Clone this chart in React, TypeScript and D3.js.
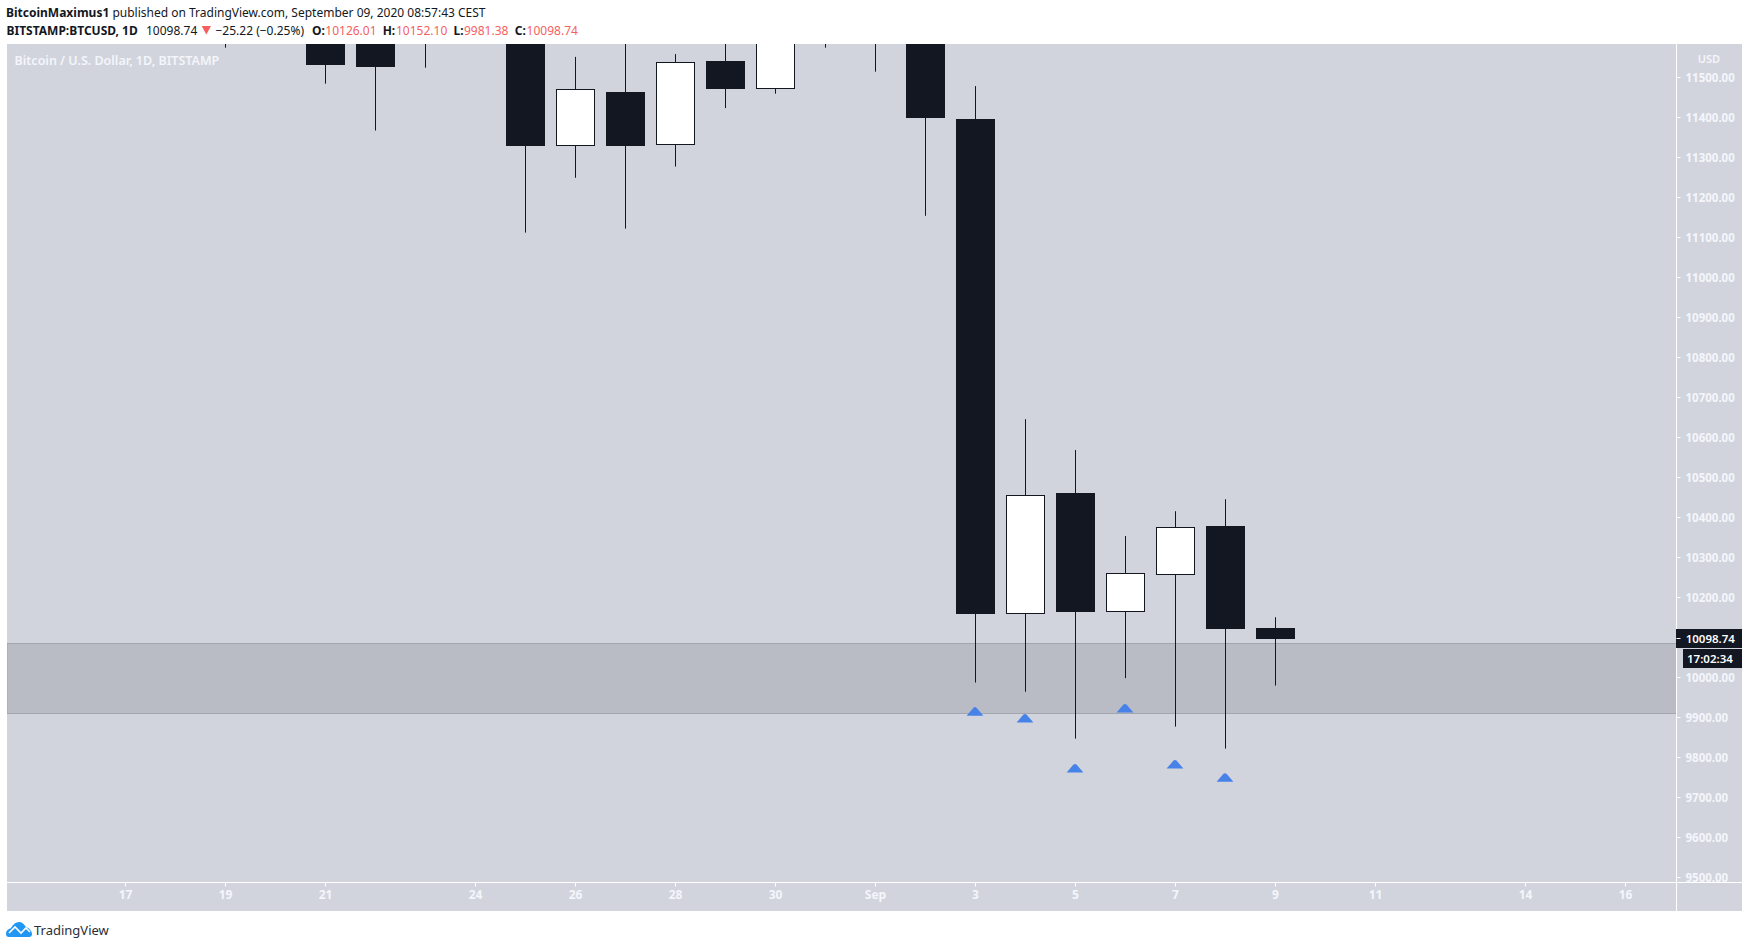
import * as d3 from "d3";
import { useEffect, useRef } from "react";

const days = ["2020-08-19", "2020-08-20", "2020-08-21", "2020-08-22", "2020-08-23", "2020-08-24", "2020-08-25", "2020-08-26", "2020-08-27", "2020-08-28", "2020-08-29", "2020-08-30", "2020-08-31", "2020-09-01", "2020-09-02", "2020-09-03", "2020-09-04", "2020-09-05", "2020-09-06", "2020-09-07", "2020-09-08", "2020-09-09"];
// values above 11590 are off the top of the picture, so those are rough guesses
const opens = [11860, 11750, 11860, 11680, 11650, 11650, 11760, 11330, 11464, 11333, 11542, 11473, 11700, 11660, 11920, 11397, 10160, 10463, 10166, 10257, 10380, 10126.01];
const highs = [11990, 11880, 11880, 11690, 11720, 11820, 11770, 11552, 11600, 11559, 11600, 11720, 11790, 12050, 11950, 11479, 10647, 10570, 10355, 10417, 10447, 10152.1];
const lows = [11575, 11680, 11485, 11368, 11525, 11590, 11113, 11250, 11123, 11278, 11424, 11460, 11575, 11515, 11155, 9989, 9966, 9849, 10000, 9879, 9824, 9981.38];
const closes = [11750, 11860, 11532, 11527, 11680, 11760, 11330, 11471, 11330, 11538, 11472, 11700, 11660, 11920, 11399, 10161, 10457, 10166, 10262, 10377, 10124, 10098.74];

const markerDays = ["2020-09-03", "2020-09-04", "2020-09-05", "2020-09-06", "2020-09-07", "2020-09-08"];
const markerPrices = [9906, 9889, 9764, 9914, 9774, 9741];

const bandPrices = [10087, 9912];

const priceTicks = d3.range(9500, 11501, 100);
const timeTickDays = ["2020-08-17", "2020-08-19", "2020-08-21", "2020-08-24", "2020-08-26", "2020-08-28", "2020-08-30", "2020-09-01", "2020-09-03", "2020-09-05", "2020-09-07", "2020-09-09", "2020-09-11", "2020-09-14", "2020-09-16"];
const timeTickLabels = ["17", "19", "21", "24", "26", "28", "30", "Sep", "3", "5", "7", "9", "11", "14", "16"];

const lastPrice = 10098.74;
const countdown = "17:02:34";

const DARK = "#131722";
const PANE = "#d1d4dd";
const AXIS_TEXT = "#f4f6fb";
const RED = "#f55f5f";
const FONT = "'Noto Sans', sans-serif";

const App = () => {
  const ref = useRef<SVGSVGElement | null>(null);

  useEffect(() => {
    const left = 7;
    const top = 44;
    const paneRight = 1676;
    const paneBottom = 882;
    const axisRight = 1742;
    const axisBottom = 911;

    const parse = d3.utcParse("%Y-%m-%d");
    const x = d3
      .scaleUtc()
      .domain([parse("2020-08-17")!, parse("2020-09-16")!])
      .range([125.5, 1625.5]);
    const y = d3.scaleLinear().domain([11500, 9500]).range([77.7, 878.3]);
    const xd = (d: string) => x(parse(d)!);

    const svg = d3.select(ref.current);
    svg.selectAll("*").remove();

    svg
      .append("rect")
      .attr("x", left)
      .attr("y", top)
      .attr("width", axisRight - left)
      .attr("height", axisBottom - top)
      .attr("fill", PANE);

    svg
      .append("clipPath")
      .attr("id", "pane")
      .append("rect")
      .attr("x", left)
      .attr("y", top)
      .attr("width", paneRight - left)
      .attr("height", paneBottom - top);

    const pane = svg.append("g").attr("clip-path", "url(#pane)");

    // grey zone
    pane
      .append("rect")
      .attr("x", left)
      .attr("y", Math.round(y(bandPrices[0])) + 0.5)
      .attr("width", paneRight - left + 2)
      .attr("height", Math.round(y(bandPrices[1])) - Math.round(y(bandPrices[0])))
      .attr("fill", "#b9bcc5")
      .attr("stroke", "#a3a6af");

    const candles = days.map((d, i) => ({
      x: xd(d),
      o: opens[i],
      h: highs[i],
      l: lows[i],
      c: closes[i],
    }));

    const g = pane
      .selectAll("g.candle")
      .data(candles)
      .enter()
      .append("g")
      .attr("class", "candle");

    g.append("line")
      .attr("x1", (d) => d.x)
      .attr("x2", (d) => d.x)
      .attr("y1", (d) => y(d.h))
      .attr("y2", (d) => y(d.l))
      .attr("stroke", DARK)
      .attr("stroke-width", 1);

    // bear bodies are solid, bull bodies white with a 1px border
    g.append("rect")
      .attr("x", (d) => (d.c < d.o ? d.x - 19.5 : d.x - 19))
      .attr("width", (d) => (d.c < d.o ? 39 : 38))
      .attr("y", (d) =>
        d.c < d.o ? Math.round(y(d.o)) : Math.round(y(d.c)) + 0.5
      )
      .attr(
        "height",
        (d) =>
          Math.round(y(Math.min(d.o, d.c))) -
          Math.round(y(Math.max(d.o, d.c))) -
          (d.c < d.o ? 0 : 1)
      )
      .attr("fill", (d) => (d.c < d.o ? DARK : "#ffffff"))
      .attr("stroke", (d) => (d.c < d.o ? "none" : DARK))
      .attr("stroke-width", 1);

    pane
      .selectAll("path.marker")
      .data(markerDays)
      .enter()
      .append("path")
      .attr("class", "marker")
      .attr("d", () => {
        const p = d3.path();
        p.moveTo(-8.4, 0);
        p.lineTo(-1.5, -8);
        p.quadraticCurveTo(0, -9.4, 1.5, -8);
        p.lineTo(8.4, 0);
        p.closePath();
        return p.toString();
      })
      .attr("transform", (d, i) => `translate(${xd(d) - 0.5},${y(markerPrices[i])})`)
      .attr("fill", "#4682e8");

    pane
      .append("text")
      .attr("x", 14.5)
      .attr("y", 65)
      .attr("fill", AXIS_TEXT)
      .attr("font-size", 12.5)
      .attr("font-weight", 600)
      .text("Bitcoin / U.S. Dollar, 1D, BITSTAMP");

    // axis lines
    svg
      .append("line")
      .attr("x1", paneRight + 0.5)
      .attr("x2", paneRight + 0.5)
      .attr("y1", top)
      .attr("y2", axisBottom)
      .attr("stroke", "#ffffff");
    svg
      .append("line")
      .attr("x1", left)
      .attr("x2", axisRight)
      .attr("y1", paneBottom + 0.5)
      .attr("y2", paneBottom + 0.5)
      .attr("stroke", "#ffffff");

    // price axis, the lowest label is cut by the time axis line
    svg
      .append("clipPath")
      .attr("id", "price-axis")
      .append("rect")
      .attr("x", paneRight)
      .attr("y", top)
      .attr("width", axisRight - paneRight)
      .attr("height", paneBottom - top);

    const priceAxis = svg
      .append("g")
      .attr("clip-path", "url(#price-axis)")
      .append("g")
      .attr("transform", `translate(${paneRight + 0.5},0)`)
      .call(
        d3
          .axisRight(y)
          .offset(0)
          .tickValues(priceTicks)
          .tickSize(4)
          .tickPadding(5)
          .tickFormat((d) => (d as number).toFixed(2))
      );
    priceAxis.select(".domain").remove();
    priceAxis
      .selectAll<SVGGElement, number>(".tick")
      .attr("transform", (d) => `translate(0,${Math.round(y(d)) - 0.5})`);
    priceAxis.selectAll("line").attr("stroke", "#ffffff");
    priceAxis
      .selectAll("text")
      .attr("y", 1)
      .attr("fill", AXIS_TEXT)
      .attr("font-size", 11.5)
      .attr("font-weight", 700)
      .attr("font-family", FONT);

    svg
      .append("text")
      .attr("x", 1709)
      .attr("y", 63)
      .attr("text-anchor", "middle")
      .attr("fill", AXIS_TEXT)
      .attr("font-size", 11)
      .attr("font-weight", 600)
      .text("USD");

    // time axis
    const timeAxis = svg
      .append("g")
      .attr("transform", `translate(0,${paneBottom + 0.5})`)
      .call(
        d3
          .axisBottom(x)
          .offset(0)
          .tickValues(timeTickDays.map((d) => parse(d)!))
          .tickSize(4)
          .tickPadding(4)
          .tickFormat((_, i) => timeTickLabels[i])
      );
    timeAxis.select(".domain").remove();
    timeAxis.selectAll("line").attr("stroke", "#ffffff");
    timeAxis
      .selectAll("text")
      .attr("fill", AXIS_TEXT)
      .attr("font-size", 12)
      .attr("font-weight", 700)
      .attr("font-family", FONT);

    // last price and countdown tags
    svg.append("rect").attr("x", paneRight).attr("y", 629).attr("width", axisRight - paneRight).attr("height", 19).attr("fill", DARK);
    svg
      .append("line")
      .attr("x1", paneRight + 0.5)
      .attr("x2", paneRight + 4.5)
      .attr("y1", Math.round(y(lastPrice)) - 0.5)
      .attr("y2", Math.round(y(lastPrice)) - 0.5)
      .attr("stroke", "#ffffff");
    svg.append("text").attr("x", 1685.7).attr("y", 643).attr("fill", "#ffffff").attr("font-size", 11.5).attr("font-weight", 600).text(lastPrice.toFixed(2));
    svg.append("rect").attr("x", 1683).attr("y", 649).attr("width", axisRight - 1683).attr("height", 19).attr("fill", DARK);
    svg.append("text").attr("x", 1687).attr("y", 663).attr("fill", "#ffffff").attr("font-size", 11.5).attr("font-weight", 600).text(countdown);

    // header
    const header = svg.append("g").attr("font-size", 12).attr("fill", DARK);
    const line1 = header.append("text").attr("x", 6).attr("y", 17);
    line1.append("tspan").attr("font-weight", 700).text("BitcoinMaximus1");
    line1.append("tspan").text(" published on TradingView.com, September 09, 2020 08:57:43 CEST");

    const put = (px: number, s: string, bold: boolean, fill: string) =>
      header
        .append("text")
        .attr("x", px)
        .attr("y", 34.5)
        .attr("font-weight", bold ? 700 : 400)
        .attr("fill", fill)
        .text(s);
    put(6.5, "BITSTAMP:BTCUSD, 1D", true, DARK);
    put(146, lastPrice.toFixed(2), false, DARK);
    put(215.5, "−25.22 (−0.25%)", false, DARK);
    put(312, "O:", true, DARK);
    put(325.3, opens[opens.length - 1].toFixed(2), false, RED);
    put(382.7, "H:", true, DARK);
    put(396, highs[highs.length - 1].toFixed(2), false, RED);
    put(453.5, "L:", true, DARK);
    put(464, lows[lows.length - 1].toFixed(2), false, RED);
    put(514.7, "C:", true, DARK);
    put(526.6, closes[closes.length - 1].toFixed(2), false, RED);

    header
      .append("path")
      .attr("d", "M201.7 26 L211 26 L206.3 34.5 Z")
      .attr("fill", RED);

    // logo
    const logo = svg.append("g");
    logo
      .append("path")
      .attr("d", "M6 934 C6 930 9 929 11 928 C13 924 16 922 19 922 C22 922 24 924 26 927 C29 928 32 931 32 934 C32 936 31 937 29 937 L9 937 C7 937 6 936 6 934 Z")
      .attr("fill", "#2196f3");
    logo
      .append("path")
      .attr("d", "M9 933 L15 927 L21 933 L26 928 L30 932")
      .attr("fill", "none")
      .attr("stroke", "#ffffff")
      .attr("stroke-width", 1.6);
    svg
      .append("text")
      .attr("x", 34)
      .attr("y", 934.5)
      .attr("font-size", 13)
      .attr("fill", "#2a2e39")
      .text("TradingView");
  }, []);

  return (
    <svg
      ref={ref}
      width={1749}
      height={948}
      style={{ position: "absolute", left: 0, top: 0, fontFamily: FONT }}
    />
  );
};

export default App;
